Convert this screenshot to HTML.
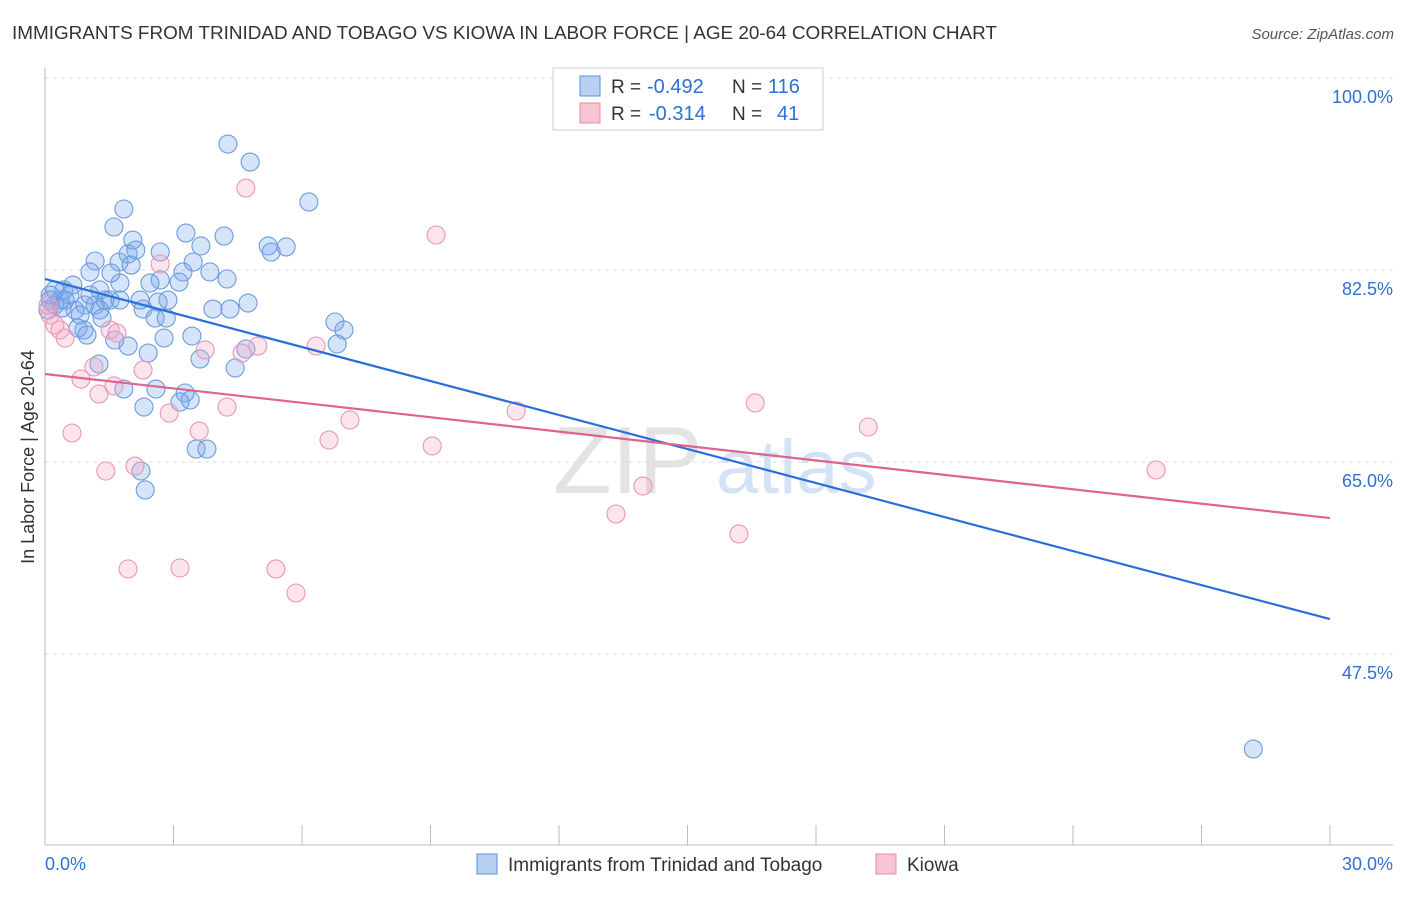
<!DOCTYPE html>
<html><head><meta charset="utf-8"><style>
body{margin:0;background:#fff;font-family:"Liberation Sans",sans-serif}
svg text{font-family:"Liberation Sans",sans-serif}
</style></head><body>
<svg id="chart" width="1406" height="892" viewBox="0 0 1406 892" xmlns="http://www.w3.org/2000/svg">
<text x="12" y="39" font-size="18.9" fill="#333">IMMIGRANTS FROM TRINIDAD AND TOBAGO VS KIOWA IN LABOR FORCE | AGE 20-64 CORRELATION CHART</text>
<text x="1394" y="39" font-size="15" fill="#555" text-anchor="end" font-style="italic">Source: ZipAtlas.com</text>
<g>
<text x="553" y="493" font-size="96" fill="#ddd" font-family="Liberation Serif" opacity="0.8">ZIP</text>
<text x="716" y="493" font-size="76" fill="#c9dcf3" opacity="0.8">atlas</text>
</g>
<g id="grid"></g>
<g id="axes"></g>
<g id="pts"></g>
<g id="lines"></g>
<text transform="translate(34,457) rotate(-90)" text-anchor="middle" font-size="18" fill="#333">In Labor Force | Age 20-64</text>
<g>
<rect x="553" y="68" width="270" height="62" fill="#fff" stroke="#ccc"/>
<rect x="580" y="76" width="20" height="20" fill="#b8d0f2" stroke="#5b8fdc"/>
<rect x="580" y="103" width="20" height="20" fill="#f8c4d4" stroke="#e88aa8"/>
<text x="611" y="93" font-size="19" fill="#333">R =</text>
<text x="647" y="93" font-size="20" fill="#2f6fd6">-0.492</text>
<text x="732" y="93" font-size="19" fill="#333">N =</text>
<text x="768" y="93" font-size="20" fill="#2f6fd6">116</text>
<text x="611" y="120" font-size="19" fill="#333">R =</text>
<text x="649" y="120" font-size="20" fill="#2f6fd6">-0.314</text>
<text x="732" y="120" font-size="19" fill="#333">N =</text>
<text x="777" y="120" font-size="20" fill="#2f6fd6">41</text>
</g>
<g>
<rect x="477" y="854" width="20" height="20" fill="#b8d0f2" stroke="#5b8fdc"/>
<text x="508" y="871" font-size="19" fill="#333">Immigrants from Trinidad and Tobago</text>
<rect x="876" y="854" width="20" height="20" fill="#f8c4d4" stroke="#e88aa8"/>
<text x="907" y="871" font-size="19" fill="#333">Kiowa</text>
</g>
</svg>
<script>
const yTicks=[100,82.5,65,47.5];
const yTickLabels=["100.0%","82.5%","65.0%","47.5%"];
const xTickLabels=["0.0%","30.0%"];
const blueX=[4.27,4.79,6.16,1.84,1.61,3.29,4.18,2.05,3.64,5.21,5.63,5.28,2.69,1.94,2.12,1.17,1.73,3.46,2.01,3.22,3.85,4.25,1.05,2.69,1.75,0.65,3.13,1.54,2.45,0.44,1.28,1.52,2.87,2.64,2.29,4.74,3.92,4.32,0.35,0.12,0.23,0.93,1.17,0.70,0.47,0.82,1.28,2.57,2.83,6.77,6.98,3.43,2.78,0.91,0.98,1.63,1.94,2.41,4.69,3.62,4.44,1.26,1.84,2.59,3.27,3.39,3.15,2.31,3.53,3.78,2.24,2.34,6.82,0.12,0.07,0.58,1.40,28.21,0.23,0.40,1.05,2.22,0.77,1.33,1.75];
const blueY=[93.98,92.34,88.7,88.06,86.42,85.87,85.6,85.23,84.69,84.69,84.6,84.14,84.14,83.96,84.32,83.32,83.23,83.23,82.95,82.32,82.32,81.68,82.32,81.59,81.31,81.13,81.4,82.23,81.31,80.68,80.68,79.76,79.76,79.58,78.94,79.49,78.94,78.94,79.76,79.76,79.31,79.31,79.31,78.85,79.76,78.4,78.85,78.12,78.12,77.76,77.03,76.48,76.3,77.03,76.57,76.12,75.57,74.93,75.3,74.39,73.57,73.93,71.65,71.65,71.29,70.65,70.47,70.01,66.18,66.18,64.18,62.45,75.75,80.22,78.85,80.22,79.76,38.84,80.68,79.04,80.22,79.76,77.21,78.12,79.76];
const pinkX=[4.69,9.13,2.69,1.52,0.35,0.47,1.68,3.74,4.60,4.97,6.33,1.14,2.29,1.61,1.26,0.84,2.90,4.25,3.60,0.63,6.63,7.12,9.04,11.0,16.58,19.22,25.94,13.96,13.33,16.2,1.42,2.10,1.94,3.15,5.39,5.86,0.12,0.23,0.07];
const pinkY=[89.97,85.69,83.05,77.03,77.03,76.3,76.76,75.21,74.93,75.57,75.57,73.66,73.38,71.93,71.2,72.56,69.46,70.01,67.82,67.64,67.0,68.83,66.46,69.65,70.38,68.19,64.27,62.81,60.26,58.44,64.18,64.63,55.25,55.34,55.25,53.06,78.4,77.49,79.31];
const blueTrend=[81.68,50.68];
const pinkTrend=[73.02,59.89];
const NS="http://www.w3.org/2000/svg";
const X0=45,X1=1330,YTOP=78,PXPER=192/17.5;
const xs=v=>X0+v/30*(X1-X0);
const ys=v=>YTOP+(100-v)*PXPER;
function mk(tag,attrs,parent){const e=document.createElementNS(NS,tag);for(const k in attrs)e.setAttribute(k,attrs[k]);parent.appendChild(e);return e;}
const grid=document.getElementById('grid'),axes=document.getElementById('axes'),pts=document.getElementById('pts'),lines=document.getElementById('lines');
yTicks.forEach((t,i)=>{
 const l=mk('line',{x1:X0,x2:1393,y1:ys(t),y2:ys(t),stroke:'#ddd','stroke-dasharray':'4,4'},grid);
 
 
 const tx=mk('text',{x:1393,y:ys(t)+25,'font-size':18,fill:'#2f6fd6','text-anchor':'end'},grid);
 tx.textContent=yTickLabels[i];
 
 
});
const ax=mk('line',{x1:X0,x2:X0,y1:68,y2:845,stroke:'#bbb'},axes);


const bx=mk('line',{x1:X0,x2:1393,y1:845,y2:845,stroke:'#bbb'},axes);


for(let i=0;i<=10;i++){
 const t=mk('line',{x1:xs(i*3),x2:xs(i*3),y1:825,y2:845,stroke:'#bbb'},axes);
 
 
}
[[0,'start',45],[30,'end',1393]].forEach((d,i)=>{
 const t=mk('text',{x:d[2],y:870,'font-size':18,fill:'#2f6fd6','text-anchor':d[1]},axes);
 t.textContent=xTickLabels[i];
 
 
});
function dots(X,Y,fill,stroke,name){
 X.forEach((x,i)=>{
  const c=mk('circle',{cx:xs(x),cy:ys(Y[i]),r:9,fill:fill,stroke:stroke,'stroke-width':1.1},pts);
  
  
 });
}
dots(blueX,blueY,'rgba(120,165,235,0.3)','#6b9be0','trinidad-point');
dots(pinkX,pinkY,'rgba(245,165,195,0.3)','#eb97b2','kiowa-point');
const lb=mk('line',{x1:xs(0),y1:ys(blueTrend[0]),x2:xs(30),y2:ys(blueTrend[1]),stroke:'#2a6fd8','stroke-width':2.2},lines);


const lp=mk('line',{x1:xs(0),y1:ys(pinkTrend[0]),x2:xs(30),y2:ys(pinkTrend[1]),stroke:'#e0628e','stroke-width':2.2},lines);


</script>
</body></html>
